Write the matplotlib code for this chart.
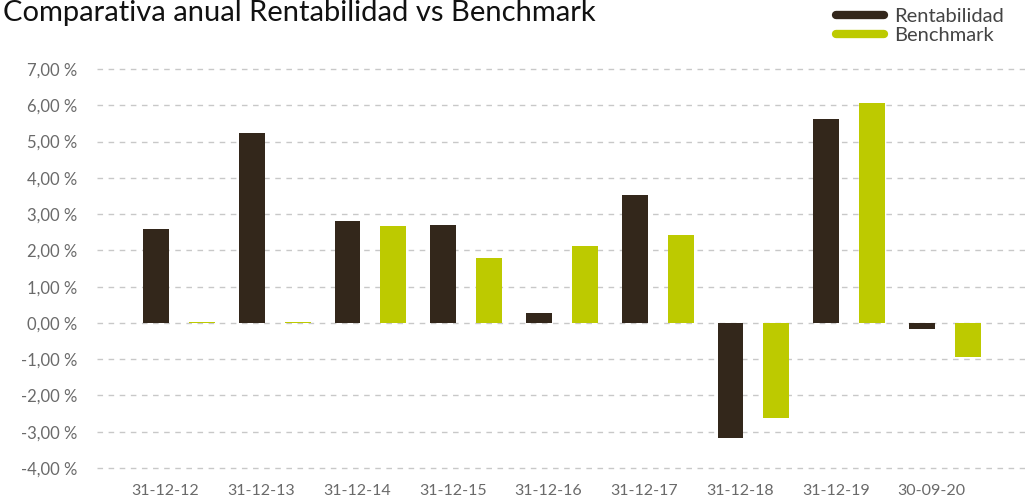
import matplotlib.pyplot as plt
from matplotlib.lines import Line2D
import numpy as np

# --- datos ---
fechas = ["31-12-12", "31-12-13", "31-12-14", "31-12-15", "31-12-16",
          "31-12-17", "31-12-18", "31-12-19", "30-09-20"]
rentabilidad = [2.59, 5.24, 2.81, 2.70, 0.28, 3.53, -3.17, 5.62, -0.17]
benchmark = [0.02, 0.02, 2.67, 1.79, 2.12, 2.43, -2.62, 6.07, -0.94]
yticks = np.arange(-4, 8, 1)

c_rent = "#33271b"
c_bench = "#bdca00"
c_grid = "#c8c8c8"
c_text = "#6a6a6a"

plt.rcParams['font.family'] = ['Lato', 'DejaVu Sans']

fig = plt.figure(figsize=(10.25, 5.04), dpi=100)
ax = fig.add_axes([0.0946, 0.0498, 0.9054, 0.8349])

x = np.arange(len(fechas))
ancho = 0.27
ax.bar(x - 0.24, rentabilidad, ancho, color=c_rent, zorder=3)
ax.bar(x + 0.24, benchmark, ancho, color=c_bench, zorder=3)

ax.set_xlim(-0.856, 8.836)
ax.set_ylim(-4.3, 7.3)
ax.set_yticks(yticks)
ax.set_yticklabels([f"{v:.2f} %".replace(".", ",") for v in yticks])
ax.set_xticks(x - 0.14)
ax.set_xticklabels(fechas)

ax.grid(axis="y", color=c_grid, linestyle=(0, (4, 4)), linewidth=1, zorder=0)
for s in ax.spines.values():
    s.set_visible(False)
ax.tick_params(length=0, labelsize=12, labelcolor=c_text)
ax.tick_params(axis="y", pad=14)
ax.tick_params(axis="x", pad=4, labelsize=11.5)

fig.text(0.003, (504 - 21) / 504, "Comparativa anual Rentabilidad vs Benchmark",
         fontsize=21, color="#111111", ha="left", va="baseline")

handles = [Line2D([], [], color=c_rent, lw=6, solid_capstyle="round"),
           Line2D([], [], color=c_bench, lw=6, solid_capstyle="round")]
fig.legend(handles, ["Rentabilidad", "Benchmark"], loc="upper right",
           bbox_to_anchor=(0.997, 1.02), frameon=False, fontsize=14.5,
           handlelength=2.4, handletextpad=0.5, labelspacing=0.1,
           labelcolor="#444444")

fig.savefig("out.png", dpi=100)
